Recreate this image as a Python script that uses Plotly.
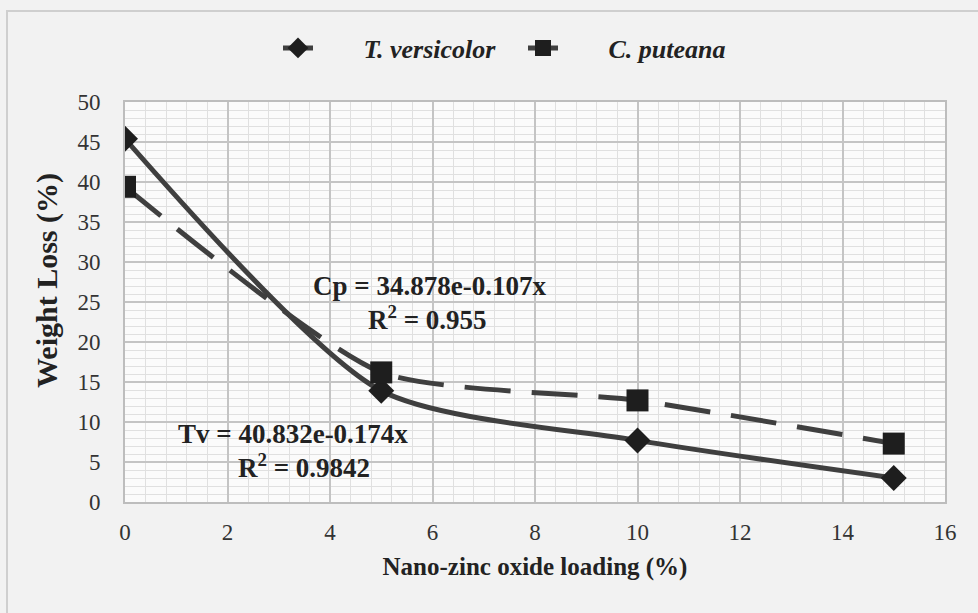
import plotly.graph_objects as go

loading = [0, 5, 10, 15]
tv_loss = [45.4, 13.9, 7.7, 3.0]
cp_loss = [39.4, 16.2, 12.7, 7.3]
tv_name = "T. versicolor"
cp_name = "C. puteana"
cp_eq = ["Cp = 34.878e-0.107x", "R<sup>2</sup> = 0.955"]
tv_eq = ["Tv = 40.832e-0.174x", "R<sup>2</sup> = 0.9842"]
x_title = "Nano-zinc oxide loading (%)"
y_title = "Weight Loss (%)"

SERIF = "Liberation Serif"
LINE = "#3f3f3f"
PAD = "\u00a0" * 7

fig = go.Figure()
fig.add_trace(go.Scatter(
    x=loading, y=tv_loss, name=PAD + tv_name, mode="lines+markers",
    line=dict(color=LINE, width=5, shape="spline", smoothing=0.7),
    marker=dict(symbol="diamond", size=20, color="#1e1e1e"),
))
fig.add_trace(go.Scatter(
    x=loading, y=cp_loss, name=PAD + cp_name, mode="lines+markers",
    line=dict(color=LINE, width=5, dash="46px,21px", shape="spline", smoothing=0.6),
    marker=dict(symbol="square", size=22, color="#1e1e1e"),
))

ann = []
for txt, xx, yy in [(cp_eq[0], 5.95, 27.0), (cp_eq[1], 5.9, 23.0),
                    (tv_eq[0], 3.28, 8.55), (tv_eq[1], 3.5, 4.5)]:
    ann.append(dict(x=xx, y=yy, xref="x", yref="y", text=txt, showarrow=False,
                    font=dict(family=SERIF, size=27, color="#222222", weight="bold")))
ann.append(dict(x=(47 - 125) / 820, y=(502 - 281) / 400, xref="paper", yref="paper",
                text=y_title, textangle=-90, showarrow=False,
                xanchor="center", yanchor="middle",
                font=dict(family=SERIF, size=30, color="#222222", weight="bold")))

fig.update_layout(
    width=978, height=613,
    margin=dict(l=125, r=33, t=102, b=111),
    paper_bgcolor="#f2f2f2",
    plot_bgcolor="#fbfbfb",
    showlegend=True,
    legend=dict(orientation="h", x=(278 - 125) / 820, xanchor="left", y=1 - 48 / 613,
                yref="container", yanchor="middle",
                font=dict(family=SERIF, size=26, color="#222222",
                          weight="bold", style="italic"),
                bgcolor="rgba(0,0,0,0)", entrywidth=200, tracegroupgap=0),
    annotations=ann,
    shapes=[dict(type="rect", xref="paper", yref="paper", x0=(7 - 125) / 820,
                 x1=1.1, y0=-0.4, y1=1 + (102 - 11) / 400,
                 line=dict(color="#cfcfcf", width=2),
                 fillcolor="rgba(0,0,0,0)", layer="below")],
)

fig.update_xaxes(
    range=[0, 16], dtick=2, tick0=0,
    showgrid=True, gridcolor="#c4c4c4", gridwidth=2,
    minor=dict(dtick=0.4, showgrid=True, gridcolor="#e0e0e0", gridwidth=1),
    showline=True, linecolor="#bdbdbd", linewidth=2, mirror=True,
    zeroline=False, ticks="", ticklabelstandoff=8,
    tickfont=dict(family=SERIF, size=23, color="#333333"),
    title=dict(text=x_title, standoff=14,
               font=dict(family=SERIF, size=25, color="#222222", weight="bold")),
)
fig.update_yaxes(
    range=[0, 50], dtick=5, tick0=0,
    showgrid=True, gridcolor="#c4c4c4", gridwidth=2,
    minor=dict(dtick=1, showgrid=True, gridcolor="#e0e0e0", gridwidth=1),
    showline=True, linecolor="#bdbdbd", linewidth=2, mirror=True,
    zeroline=False, ticks="", ticklabelstandoff=18,
    tickfont=dict(family=SERIF, size=23, color="#333333"),
)

fig.write_html("out.html", config={"displayModeBar": False},
               post_script="document.body.style.margin='0';")
